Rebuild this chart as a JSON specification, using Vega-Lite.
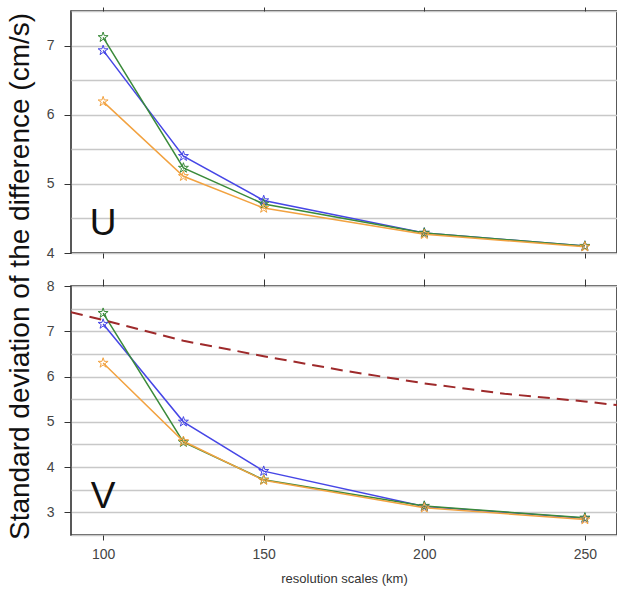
{
  "$schema": "https://vega.github.io/schema/vega-lite/v6.json",
  "padding": {"left": 5, "top": 5, "right": 1, "bottom": 0},
  "spacing": 33,
  "bounds": "flush",
  "config": {
    "font": "Liberation Sans",
    "view": {"stroke": "#222222", "strokeWidth": 1.5},
    "axis": {"labelColor": "#444444", "tickColor": "#333333", "domain": false}
  },
  "datasets": {
    "U": [
      {"series": "A", "res": 100, "sd": 6.93}, {"series": "A", "res": 125, "sd": 5.40}, {"series": "A", "res": 150, "sd": 4.76}, {"series": "A", "res": 200, "sd": 4.29}, {"series": "A", "res": 250, "sd": 4.10},
      {"series": "B", "res": 100, "sd": 7.12}, {"series": "B", "res": 125, "sd": 5.23}, {"series": "B", "res": 150, "sd": 4.71}, {"series": "B", "res": 200, "sd": 4.29}, {"series": "B", "res": 250, "sd": 4.10},
      {"series": "C", "res": 100, "sd": 6.19}, {"series": "C", "res": 125, "sd": 5.11}, {"series": "C", "res": 150, "sd": 4.65}, {"series": "C", "res": 200, "sd": 4.27}, {"series": "C", "res": 250, "sd": 4.09}
    ],
    "V": [
      {"series": "A", "res": 100, "sd": 7.16}, {"series": "A", "res": 125, "sd": 5.00}, {"series": "A", "res": 150, "sd": 3.91}, {"series": "A", "res": 200, "sd": 3.13}, {"series": "A", "res": 250, "sd": 2.87},
      {"series": "B", "res": 100, "sd": 7.40}, {"series": "B", "res": 125, "sd": 4.55}, {"series": "B", "res": 150, "sd": 3.72}, {"series": "B", "res": 200, "sd": 3.14}, {"series": "B", "res": 250, "sd": 2.88},
      {"series": "C", "res": 100, "sd": 6.30}, {"series": "C", "res": 125, "sd": 4.57}, {"series": "C", "res": 150, "sd": 3.71}, {"series": "C", "res": 200, "sd": 3.10}, {"series": "C", "res": 250, "sd": 2.84}
    ],
    "ref": [
      {"res": 90, "sd": 7.42}, {"res": 100, "sd": 7.25}, {"res": 125, "sd": 6.79}, {"res": 150, "sd": 6.45}, {"res": 175, "sd": 6.13},
      {"res": 200, "sd": 5.85}, {"res": 225, "sd": 5.62}, {"res": 250, "sd": 5.45}, {"res": 260, "sd": 5.37}
    ],
    "labU": [{"res": 100, "sd": 4.42, "label": "U"}],
    "labV": [{"res": 100, "sd": 3.35, "label": "V"}]
  },
  "vconcat": [
    {
      "width": 546,
      "height": 242,
      "resolve": {"axis": {"x": "independent"}},
      "encoding": {
        "y": {"field": "sd", "type": "quantitative", "scale": {"domain": [4, 7.5], "nice": false, "zero": false},
              "axis": {"values": [4, 4.5, 5, 5.5, 6, 6.5, 7, 7.5], "grid": true, "gridColor": "#c8c8c8", "gridWidth": 1.5,
                       "tickOpacity": {"condition": {"test": "datum.value % 1 === 0", "value": 1}, "value": 0},
                       "labelExpr": "datum.value % 1 === 0 ? '' + datum.value : ''",
                       "tickSize": 7, "labelPadding": 10, "labelFontSize": 14,
                       "title": "Standard deviation of the difference (cm/s)",
                       "titleFontSize": 28, "titleFontWeight": "normal", "titleColor": "#111111",
                       "titleX": -43, "titleY": 265, "titleAngle": -90, "titleAlign": "center", "titleBaseline": "alphabetic"}}
      },
      "layer": [
        {
          "data": {"name": "U"},
          "mark": {"type": "line", "strokeWidth": 1.5},
          "encoding": {
            "x": {"field": "res", "type": "quantitative", "scale": {"domain": [90, 260], "nice": false, "zero": false},
                  "axis": {"orient": "bottom", "values": [100, 150, 200, 250], "labels": false, "title": null, "grid": false, "tickSize": 5}},
            "color": {"field": "series", "type": "nominal", "scale": {"domain": ["A", "B", "C"], "range": ["#4646e6", "#3a8a3a", "#f2a240"]}, "legend": null}
          }
        },
        {
          "data": {"name": "U"},
          "mark": {"type": "point", "shape": "M0,-1L0.225,-0.309L0.951,-0.309L0.363,0.118L0.588,0.809L0,0.382L-0.588,0.809L-0.363,0.118L-0.951,-0.309L-0.225,-0.309Z", "filled": false, "size": 110, "strokeWidth": 1, "opacity": 1},
          "encoding": {
            "x": {"field": "res", "type": "quantitative", "axis": {"orient": "top", "values": [100, 150, 200, 250], "labels": false, "title": null, "grid": false, "tickSize": 4}},
            "color": {"field": "series", "type": "nominal", "legend": null}
          }
        },
        {
          "data": {"name": "labU"},
          "mark": {"type": "text", "fontSize": 37, "align": "center", "baseline": "middle", "color": "#111111"},
          "encoding": {
            "x": {"field": "res", "type": "quantitative", "axis": null},
            "text": {"field": "label"}
          }
        }
      ]
    },
    {
      "width": 546,
      "height": 249,
      "resolve": {"axis": {"x": "independent"}},
      "encoding": {
        "y": {"field": "sd", "type": "quantitative", "scale": {"domain": [2.5, 8], "nice": false, "zero": false},
              "axis": {"values": [2.5, 3, 3.5, 4, 4.5, 5, 5.5, 6, 6.5, 7, 7.5, 8], "grid": true, "gridColor": "#c8c8c8", "gridWidth": 1.5,
                       "tickOpacity": {"condition": {"test": "datum.value % 1 === 0", "value": 1}, "value": 0},
                       "labelExpr": "datum.value % 1 === 0 ? '' + datum.value : ''",
                       "tickSize": 7, "labelPadding": 10, "labelFontSize": 14, "title": null}}
      },
      "layer": [
        {
          "data": {"name": "V"},
          "mark": {"type": "line", "strokeWidth": 1.5},
          "encoding": {
            "x": {"field": "res", "type": "quantitative", "scale": {"domain": [90, 260], "nice": false, "zero": false},
                  "axis": {"orient": "bottom", "values": [100, 150, 200, 250], "grid": false, "tickSize": 5, "labelPadding": 7, "labelFontSize": 14,
                           "title": "resolution scales (km)", "titleFontSize": 13, "titleFontWeight": "normal", "titleColor": "#333333", "titlePadding": 11}},
            "color": {"field": "series", "type": "nominal", "scale": {"domain": ["A", "B", "C"], "range": ["#4646e6", "#3a8a3a", "#f2a240"]}, "legend": null}
          }
        },
        {
          "data": {"name": "V"},
          "mark": {"type": "point", "shape": "M0,-1L0.225,-0.309L0.951,-0.309L0.363,0.118L0.588,0.809L0,0.382L-0.588,0.809L-0.363,0.118L-0.951,-0.309L-0.225,-0.309Z", "filled": false, "size": 110, "strokeWidth": 1, "opacity": 1},
          "encoding": {
            "x": {"field": "res", "type": "quantitative", "axis": {"orient": "top", "values": [100, 150, 200, 250], "labels": false, "title": null, "grid": false, "tickSize": 7}},
            "color": {"field": "series", "type": "nominal", "legend": null}
          }
        },
        {
          "data": {"name": "ref"},
          "mark": {"type": "line", "color": "#9e2a2b", "strokeWidth": 2, "strokeDash": [12, 7], "clip": true},
          "encoding": {
            "x": {"field": "res", "type": "quantitative", "axis": null}
          }
        },
        {
          "data": {"name": "labV"},
          "mark": {"type": "text", "fontSize": 37, "align": "center", "baseline": "middle", "color": "#111111"},
          "encoding": {
            "x": {"field": "res", "type": "quantitative", "axis": null},
            "text": {"field": "label"}
          }
        }
      ]
    }
  ]
}
